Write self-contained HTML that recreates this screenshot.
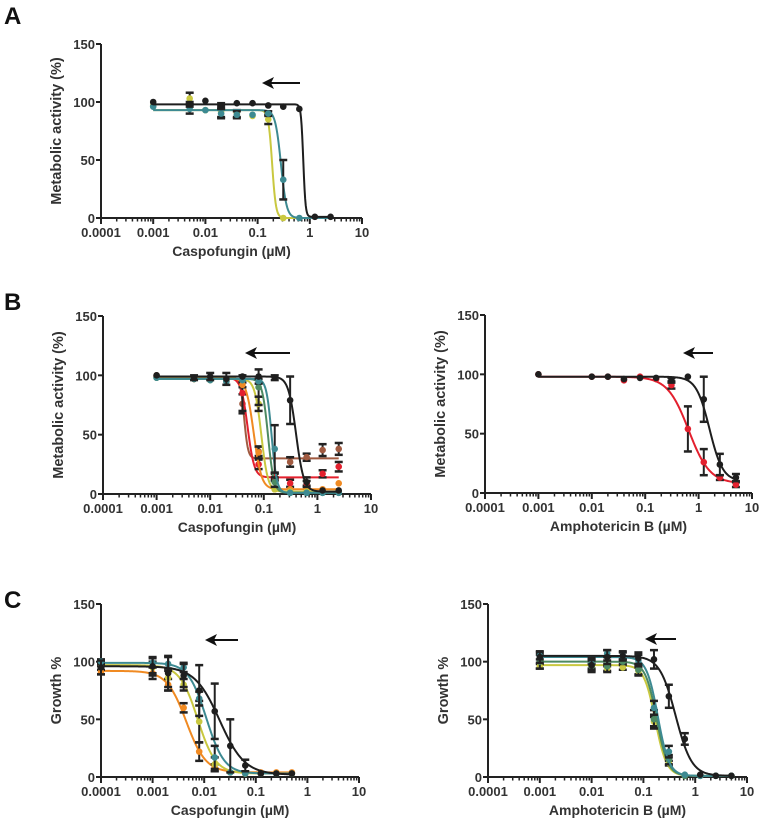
<!DOCTYPE html>
<html><head><meta charset="utf-8"><style>
body{margin:0;background:#fff;width:760px;height:818px;overflow:hidden;font-family:"Liberation Sans",Arial,sans-serif}
svg{position:absolute;left:0;top:0}
</style></head><body>
<svg id="fig" width="760" height="818"></svg>
<script>
// ---- Data ----
const concA = [0.001,0.005,0.01,0.02,0.04,0.08,0.16,0.31,0.63,1.25,2.5];
const aBlack = [100,98,101,97,99,99,97,96,94,1,1];
const aBlackErr = [1,2,1,2,1,1,1,1,1,0,0];
const aYellow = [97,103,93,92,90,88,85,0,null,null,null];
const aYellowErr = [0,5,1,5,3,1,4,0,0,0,0];
const aTeal = [96,94,93,90,89,89,90,33,0,null,null];
const aTealErr = [1,4,1,4,3,1,2,17,0,0,0];

const concB = [0.001,0.005,0.01,0.02,0.04,0.08,0.16,0.31,0.63,1.25,2.5];
const bBlack = [100,98,99,97,99,99,98,79,10,3,3];
const bBlackErr = [1,2,3,5,1,1,2,20,4,1,1];
const bBrown = [100,97,98,96,76,36,15,27,31,37,38];
const bBrownErr = [1,1,1,1,8,4,3,4,3,5,5];
const bRed = [99,97,97,95,85,25,14,9,9,17,23];
const bRedErr = [1,1,1,1,15,4,3,3,2,3,4];
const bOrange = [99,97,97,96,92,35,4,4,4,4,9];
const bOrangeErr = [1,1,1,1,2,5,1,1,1,1,1];
const bYellow = [98,97,96,96,96,76,4,2,2,2,2];
const bYellowErr = [1,1,1,1,1,6,1,1,1,1,1];
const bGreen = [98,97,96,95,96,90,10,1,1,1,1];
const bGreenErr = [1,1,1,1,1,15,4,1,1,1,1];
const bTeal = [98,97,96,95,96,95,38,1,1,1,1];
const bTealErr = [1,1,1,1,1,2,20,1,1,1,1];

const concBR = [0.001,0.01,0.02,0.04,0.08,0.16,0.31,0.63,1.25,2.5,5];
const brBlack = [100,98,98,96,97,97,95,98,79,24,13];
const brBlackErr = [1,1,1,1,1,1,2,1,19,9,3];
const brRed = [100,98,98,95,98,96,91,54,26,13,7];
const brRedErr = [1,1,1,1,1,1,3,19,11,2,2];

const concC = [0.0001,0.001,0.002,0.004,0.008,0.016,0.032,0.0625,0.125,0.25,0.5];
const cBlack = [95,96,90,88,75,57,27,10,3,3,3];
const cBlackErr = [6,8,15,10,22,24,23,5,1,1,1];
const cTeal = [100,99,98,95,68,17,4,3,3,3,3];
const cTealErr = [2,4,6,4,6,10,1,1,1,1,1];
const cYellow = [98,95,86,80,48,11,4,3,3,3,3];
const cYellowErr = [2,5,8,5,18,6,1,1,1,1,1];
const cOrange = [91,90,80,60,22,8,4,3,4,4,4];
const cOrangeErr = [2,5,5,4,8,3,1,1,1,1,1];

const concCR = [0.001,0.01,0.02,0.04,0.08,0.16,0.31,0.63,1.25,2.5,5];
const crBlack = [104,97,104,105,103,102,70,33,2,1,1];
const crBlackErr = [5,5,6,4,5,8,10,5,1,1,1];
const crTeal = [105,98,107,105,101,60,22,2,1,1,1];
const crTealErr = [3,5,3,3,5,6,5,1,1,1,1];
const crGreen = [100,96,96,100,93,50,15,1,1,1,1];
const crGreenErr = [6,5,5,2,5,8,4,1,1,1,1];
const crYellow = [96,96,94,95,92,48,12,1,1,1,1];
const crYellowErr = [2,2,2,2,3,4,2,1,1,1,1];

const yTicks = [0,50,100,150];
const xTickLabels = ["0.0001","0.001","0.01","0.1","1","10"];

// fit params: [top,bottom,ic50,hill]
const fitA = {black:[98,1,0.75,20],yellow:[93,0,0.19,12],teal:[93,0,0.28,8]};
const fitB = {black:[99,2,0.4,6],brown:[98,30,0.043,12],red:[98,14,0.05,7],orange:[98,4,0.065,6],yellow:[97,2,0.09,7],green:[97,1,0.12,8],teal:[97,1,0.14,9]};
const fitBR = {black:[98,10,1.6,3.5],red:[98,8,0.65,2.2]};
const fitC = {black:[96,2,0.02,1.8],teal:[99,3,0.011,2.5],yellow:[97,3,0.0075,2.5],orange:[92,4,0.0045,2.3]};
const fitCR = {black:[105,1,0.42,2.8],teal:[104,1,0.19,4],green:[100,1,0.18,4],yellow:[97,1,0.17,4]};

const COL = {black:"#1e1e1e",yellow:"#c9c840",teal:"#3d8a92",green:"#4d8a62",red:"#e3202e",orange:"#f08a22",brown:"#a05a40"};

const NS="http://www.w3.org/2000/svg";
const svg=document.getElementById('fig');
function el(tag,attrs,parent){const e=document.createElementNS(NS,tag);for(const k in attrs)e.setAttribute(k,attrs[k]);(parent||svg).appendChild(e);return e;}

function panel(cfg){
  const g=el('g',{});
  
  
  const {x0,x1,y0,y1}=cfg;
  const sx=v=>x0+(Math.log10(v)+4)/5*(x1-x0);
  const sy=v=>y0-(v/150)*(y0-y1);
  const ya=el('line',{x1:x0,y1:y1,x2:x0,y2:y0,stroke:"#222","stroke-width":2},g);
  
  const xa=el('line',{x1:x0,y1:y0,x2:x1,y2:y0,stroke:"#222","stroke-width":2},g);
  
  yTicks.forEach(t=>{
    el('line',{x1:x0-5,y1:sy(t),x2:x0,y2:sy(t),stroke:"#222","stroke-width":2},g);
    const tx=el('text',{x:x0-6,y:sy(t)+5,"text-anchor":"end","font-size":13,"font-weight":"bold",fill:"#333"},g);
    tx.textContent=t;
    
  });
  for(let d=-4;d<=1;d++){
    const v=Math.pow(10,d);
    el('line',{x1:sx(v),y1:y0,x2:sx(v),y2:y0+6,stroke:"#222","stroke-width":2},g);
    const tx=el('text',{x:sx(v),y:y0+19,"text-anchor":"middle","font-size":13,"font-weight":"bold",fill:"#333"},g);
    tx.textContent=xTickLabels[d+4];
    
    if(d<1)for(let m=2;m<=9;m++){const mv=m*v;el('line',{x1:sx(mv),y1:y0,x2:sx(mv),y2:y0+3.5,stroke:"#222","stroke-width":1.5},g);}
  }
  const xt=el('text',{x:(x0+x1)/2,y:y0+38,"text-anchor":"middle","font-size":14,"font-weight":"bold",fill:"#333"},g);
  xt.textContent=cfg.xtitle;
  const ytx=x0-40, yty=(y0+sy(150))/2;
  const yt=el('text',{x:ytx,y:yty,"text-anchor":"middle","font-size":14.5,"font-weight":"bold",fill:"#333",transform:`rotate(-90 ${ytx} ${yty})`},g);
  yt.textContent=cfg.ytitle;
  cfg.series.forEach(s=>{
    const [top,bot,ic,h]=cfg.fits[s.key];
    const c=COL[s.key];
    const lo=Math.log10(cfg.conc[0]), hi=Math.log10(cfg.conc[cfg.conc.length-1]);
    let d="";
    for(let i=0;i<=300;i++){const lx=lo+(hi-lo)*i/300;const v=bot+(top-bot)/(1+Math.pow(Math.pow(10,lx)/ic,h));d+=(i?"L":"M")+sx(Math.pow(10,lx)).toFixed(2)+","+sy(v).toFixed(2);}
    const p=el('path',{d:d,fill:"none",stroke:c,"stroke-width":2},g);
    
    cfg.conc.forEach((x,i)=>{
      const v=s.vals[i]; if(v==null)return;
      const err=s.err?s.err[i]:0;
      if(err>1.5){
        const eb=el('g',{},g);
        
        el('line',{x1:sx(x),y1:sy(v-err),x2:sx(x),y2:sy(v+err),stroke:"#222","stroke-width":2},eb);
        el('line',{x1:sx(x)-4,y1:sy(v-err),x2:sx(x)+4,y2:sy(v-err),stroke:"#222","stroke-width":2.5},eb);
        el('line',{x1:sx(x)-4,y1:sy(v+err),x2:sx(x)+4,y2:sy(v+err),stroke:"#222","stroke-width":2.5},eb);}
      const pt=el('circle',{cx:sx(x),cy:sy(v),r:3.3,fill:c},g);
      
    });
  });
  const [ax1,ax2,ay]=cfg.arrow;
  const ar=el('g',{},g);
  el('line',{x1:ax1,y1:ay,x2:ax2+6,y2:ay,stroke:"#111","stroke-width":2},ar);
  el('path',{d:`M${ax2},${ay} L${ax2+12},${ay-6} L${ax2+9},${ay} L${ax2+12},${ay+6}Z`,fill:"#111"},ar);
}

function letter(t,x,y){const e=el('text',{x:x,y:y,"font-size":24,"font-weight":"bold",fill:"#111"});e.textContent=t;}
letter('A',4,24);letter('B',4,310);letter('C',4,608);

panel({name:'panel-a',x0:101,x1:362,y0:218,y1:44,conc:concA,fits:fitA,xtitle:'Caspofungin (µM)',ytitle:'Metabolic activity (%)',arrow:[300,262,83],
  series:[{key:'yellow',vals:aYellow,err:aYellowErr},{key:'teal',vals:aTeal,err:aTealErr},{key:'black',vals:aBlack,err:aBlackErr}]});
panel({name:'panel-b-caspofungin',x0:103,x1:371,y0:494,y1:316,conc:concB,fits:fitB,xtitle:'Caspofungin (µM)',ytitle:'Metabolic activity (%)',arrow:[290,245,353],
  series:[{key:'brown',vals:bBrown,err:bBrownErr},{key:'red',vals:bRed,err:bRedErr},{key:'orange',vals:bOrange,err:bOrangeErr},{key:'yellow',vals:bYellow,err:bYellowErr},{key:'green',vals:bGreen,err:bGreenErr},{key:'teal',vals:bTeal,err:bTealErr},{key:'black',vals:bBlack,err:bBlackErr}]});
panel({name:'panel-b-amphotericin',x0:485,x1:752,y0:493,y1:315,conc:concBR,fits:fitBR,xtitle:'Amphotericin B (µM)',ytitle:'Metabolic activity (%)',arrow:[713,683,353],
  series:[{key:'red',vals:brRed,err:brRedErr},{key:'black',vals:brBlack,err:brBlackErr}]});
panel({name:'panel-c-caspofungin',x0:101,x1:359,y0:777,y1:604,conc:concC,fits:fitC,xtitle:'Caspofungin (µM)',ytitle:'Growth %',arrow:[238,205,640],
  series:[{key:'orange',vals:cOrange,err:cOrangeErr},{key:'yellow',vals:cYellow,err:cYellowErr},{key:'teal',vals:cTeal,err:cTealErr},{key:'black',vals:cBlack,err:cBlackErr}]});
panel({name:'panel-c-amphotericin',x0:488,x1:747,y0:777,y1:604,conc:concCR,fits:fitCR,xtitle:'Amphotericin B (µM)',ytitle:'Growth %',arrow:[676,645,639],
  series:[{key:'yellow',vals:crYellow,err:crYellowErr},{key:'green',vals:crGreen,err:crGreenErr},{key:'teal',vals:crTeal,err:crTealErr},{key:'black',vals:crBlack,err:crBlackErr}]});
</script>
</body></html>
